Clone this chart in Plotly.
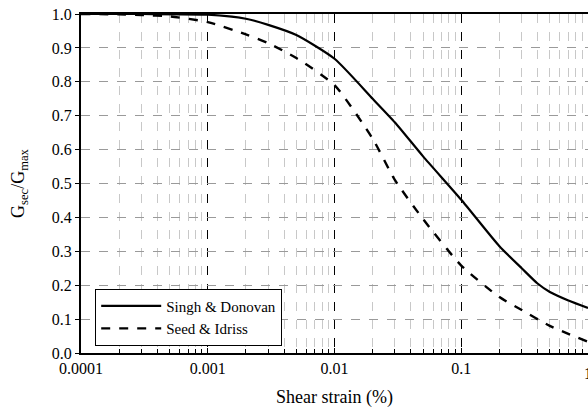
import plotly.graph_objects as go

strain_sd = [0.0001, 0.0003, 0.001, 0.002, 0.003, 0.005, 0.01, 0.02, 0.03, 0.05, 0.1, 0.2, 0.3, 0.4, 0.5, 0.7, 1.0]
g_sd = [1.0, 1.0, 0.998, 0.986, 0.968, 0.938, 0.868, 0.75, 0.68, 0.58, 0.452, 0.315, 0.25, 0.205, 0.18, 0.155, 0.133]

strain_si = [0.0001, 0.0002, 0.0003, 0.0005, 0.001, 0.002, 0.003, 0.005, 0.01, 0.02, 0.03, 0.05, 0.1, 0.2, 0.3, 0.5, 1.0]
g_si = [1.0, 0.999, 0.997, 0.993, 0.976, 0.94, 0.914, 0.87, 0.79, 0.632, 0.51, 0.395, 0.258, 0.165, 0.127, 0.08, 0.033]

x_ticks = [0.0001, 0.001, 0.01, 0.1, 1]
x_tick_text = ["0.0001", "0.001", "0.01", "0.1", "1"]
x_minor = [m * d for d in [0.0001, 0.001, 0.01, 0.1] for m in range(2, 10)]
y_ticks = [0.0, 0.1, 0.2, 0.3, 0.4, 0.5, 0.6, 0.7, 0.8, 0.9, 1.0]

FONT = "Liberation Serif"

fig = go.Figure()
fig.add_trace(go.Scatter(x=strain_sd, y=g_sd, mode="lines", name="Singh & Donovan",
                         line=dict(color="black", width=2.2, shape="spline", smoothing=0.6)))
fig.add_trace(go.Scatter(x=strain_si, y=g_si, mode="lines", name="Seed & Idriss",
                         line=dict(color="black", width=2.4, dash="dash", shape="spline", smoothing=0.6)))

fig.update_layout(
    width=588, height=415,
    margin=dict(l=81, r=0, t=14, b=62),
    paper_bgcolor="white", plot_bgcolor="white",
    font=dict(family=FONT, size=16, color="black"),
    showlegend=True,
    legend=dict(x=0.028, y=0.19, xanchor="left", yanchor="top",
                bordercolor="black", borderwidth=1, bgcolor="white",
                font=dict(family=FONT, size=15), tracegroupgap=0, itemwidth=60,
                entrywidth=112),
)

# the last tick label sits on the right edge and is half cut off, as in the reference
fig.add_annotation(x=0, xref="x", y=0, yref="paper", yshift=-10, text=x_tick_text[-1],
                   showarrow=False, xanchor="center", yanchor="top",
                   font=dict(family=FONT, size=16, color="black"))

fig.update_xaxes(
    type="log", range=[-4, 0], automargin=False,
    tickmode="array", tickvals=x_ticks, ticktext=x_tick_text[:-1] + [""],
    showline=True, linecolor="black", linewidth=2, mirror=True,
    ticks="inside", ticklen=5, tickcolor="black",
    showgrid=True, gridcolor="black", gridwidth=1, griddash="dash",
    minor=dict(tickmode="array", tickvals=x_minor, ticks="inside", ticklen=4,
               tickcolor="black", showgrid=True,
               gridcolor="#c8c8c8", gridwidth=1, griddash="dash"),
    title=dict(text="Shear strain (%)", font=dict(family=FONT, size=18), standoff=14),
    zeroline=False,
)
fig.update_yaxes(
    range=[0, 1], tickvals=y_ticks, tickformat=".1f", automargin=False,
    showline=True, linecolor="black", linewidth=2,
    ticks="outside", ticklen=4, tickcolor="black",
    showgrid=True, gridcolor="#9a9a9a", gridwidth=1, griddash="dash",
    title=dict(text="G<sub>sec</sub>/G<sub>max</sub>", font=dict(family=FONT, size=18), standoff=22),
    zeroline=False,
)

fig.write_html("out.html", config={"displayModeBar": False},
               post_script="document.body.style.margin='0';document.body.style.overflow='hidden';")
